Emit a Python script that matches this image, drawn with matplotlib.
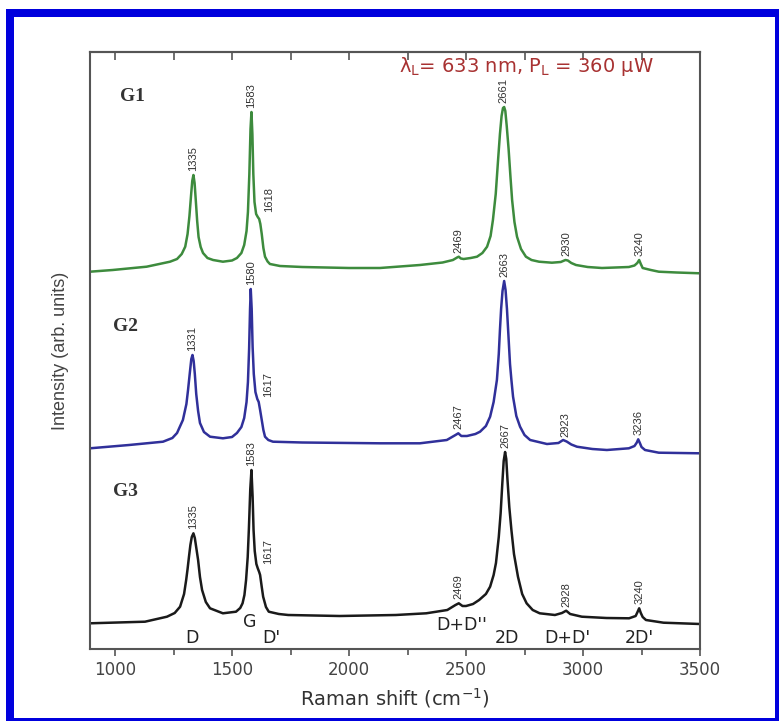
import numpy as np
import matplotlib.pyplot as plt
from matplotlib.patches import Rectangle
from matplotlib.ticker import MultipleLocator
from matplotlib.transforms import blended_transform_factory

# spectra (Raman shift in cm^-1, intensity in arb. units)
g1_x = [893, 990, 1135, 1235, 1265, 1285, 1300, 1310, 1318, 1325, 1330, 1335, 1340, 1345, 1351,
        1357, 1366, 1376, 1395, 1419, 1461, 1500, 1521, 1540, 1552, 1562, 1568, 1574, 1579, 1583,
        1587, 1591, 1596, 1603, 1610, 1616, 1621, 1627, 1634, 1641, 1652, 1662, 1705, 1800, 2000,
        2132, 2303, 2400, 2444, 2462, 2469, 2478, 2490, 2520, 2547, 2570, 2590, 2605, 2615, 2627,
        2637, 2645, 2652, 2658, 2663, 2668, 2674, 2682, 2690, 2697, 2707, 2718, 2735, 2756, 2780,
        2812, 2867, 2905, 2925, 2935, 2950, 2970, 3020, 3081, 3196, 3220, 3232, 3240, 3247, 3255,
        3290, 3324, 3400, 3500]
g1_y = [2.3, 4, 7.3, 12.3, 15, 20, 27.3, 40, 58, 79, 93, 99, 91, 74, 53,
        37, 27, 21, 16, 14, 12.3, 13.5, 16, 21, 29, 43, 62, 100, 145, 162,
        140, 100, 72, 60, 57, 55, 50, 40, 26, 17.3, 12.5, 10, 8, 7, 6,
        6, 9, 11.5, 14, 16.5, 17.3, 15.5, 15, 16, 17.3, 21, 27.3, 38, 54, 80,
        114, 140, 158, 166, 167, 163, 148, 125, 97, 74, 52, 37.3, 25, 17.3, 14,
        12.3, 11.3, 12, 14, 13.5, 11, 9, 7, 6, 7, 8.5, 11, 14, 10, 6,
        4, 2.3, 1.5, 0.7]

g2_x = [893, 1060, 1205, 1245, 1265, 1290, 1305, 1312, 1320, 1326, 1331, 1336, 1341, 1347, 1355,
        1363, 1380, 1406, 1461, 1500, 1521, 1540, 1552, 1562, 1568, 1573, 1577, 1580, 1584, 1588,
        1593, 1600, 1608, 1614, 1620, 1627, 1634, 1641, 1655, 1675, 1800, 2132, 2303, 2418, 2455,
        2467, 2480, 2504, 2540, 2560, 2585, 2603, 2618, 2632, 2640, 2645, 2650, 2656, 2663, 2669,
        2675, 2680, 2688, 2694, 2701, 2715, 2731, 2750, 2774, 2846, 2895, 2915, 2930, 2950, 2974,
        3040, 3102, 3196, 3220, 3230, 3236, 3243, 3250, 3265, 3324, 3500]
g2_y = [5.7, 9, 12.3, 16, 21, 34, 50, 64, 82, 95, 99, 93, 80, 60, 43,
        31, 22, 17.3, 15.7, 17, 21, 27, 36, 52, 72, 105, 145, 165, 145, 107,
        80, 62, 55, 52, 44, 34, 24, 17.3, 14, 12.3, 11.5, 10.7, 10.7, 14, 19,
        20.7, 18, 18, 20, 22.3, 28, 37.3, 52, 74, 100, 124, 145, 163, 173, 164,
        145, 124, 90, 74, 57.3, 38, 27.3, 19, 14, 10, 11, 14, 12.5, 9.5, 7.3,
        5, 4, 5.7, 8, 11.5, 14.7, 11, 7, 4, 1.3, 0.7]

g3_x = [893, 1128, 1222, 1255, 1278, 1295, 1304, 1310, 1316, 1322, 1328, 1335, 1341, 1348, 1355,
        1363, 1372, 1388, 1406, 1461, 1517, 1535, 1545, 1553, 1560, 1567, 1572, 1578, 1583, 1588,
        1592, 1597, 1604, 1610, 1616, 1620, 1627, 1633, 1645, 1657, 1700, 1740, 1960, 2200, 2330,
        2420, 2455, 2469, 2485, 2500, 2530, 2556, 2585, 2603, 2618, 2628, 2640, 2648, 2655, 2661,
        2667, 2672, 2677, 2685, 2694, 2705, 2722, 2740, 2759, 2785, 2815, 2880, 2910, 2928, 2945,
        2995, 3100, 3197, 3225, 3233, 3240, 3247, 3255, 3269, 3344, 3500]
g3_y = [5.7, 7.3, 12.3, 16, 22.3, 35, 49, 60, 72.3, 84, 92, 95.7, 91, 80, 69,
        52, 39, 27, 20.7, 15.7, 17.3, 21, 25.7, 34, 49, 72, 100, 140, 159, 132,
        99, 78, 65, 60.7, 57, 54, 42, 32.3, 22, 17.3, 15, 14, 13, 14, 15.7,
        19, 24, 25.7, 23, 23, 25, 29, 35, 42.3, 54, 66, 92, 116, 145, 168,
        177, 170, 150, 122, 99, 75, 52.3, 35, 25.7, 19, 15.7, 14, 16, 18.3, 15,
        12.3, 11, 10.7, 13, 17, 20.7, 16, 12, 9, 6.3, 5]

g1_peaks = [1335, 1583, 1618, 2469, 2661, 2930, 3240]
g2_peaks = [1331, 1580, 1617, 2467, 2663, 2923, 3236]
g3_peaks = [1335, 1583, 1617, 2469, 2667, 2928, 3240]

names = ['G1', 'G2', 'G3']
offsets = [375, 195, 20]
colors = ['#3d8b3d', '#30309a', '#1a1a1a']

bands = ['D', 'G', "D'", "D+D''", '2D', "D+D'", "2D'"]
band_pos = [1327, 1575, 1667, 2481, 2677, 2934, 3241]

fig = plt.figure(figsize=(7.79, 7.21), dpi=100)
ax = fig.add_axes([90 / 779, 72 / 721, 610 / 779, 597 / 721])

spectra = [(g1_x, g1_y, g1_peaks), (g2_x, g2_y, g2_peaks), (g3_x, g3_y, g3_peaks)]
name_pos = [(0.049, 0.925), (0.037, 0.541), (0.037, 0.264)]

for (x, y, peaks), off, col, name, npos in zip(spectra, offsets, colors, names, name_pos):
    y = np.array(y) + off
    ax.plot(x, y, color=col, lw=1.8, solid_joinstyle='round')
    for p in peaks:
        shoulder = 1600 < p < 1650
        dx, dy = (6.5, 6.5) if shoulder else (0, 3)
        ax.annotate(str(p), xy=(p, np.interp(p, x, y)), xytext=(dx, dy),
                    textcoords='offset points', rotation=90, ha='center', va='bottom',
                    fontsize=8, family='Liberation Sans', color='#333333')
    ax.text(npos[0], npos[1], name, transform=ax.transAxes, family='Liberation Serif',
            weight='bold', fontsize=14, ha='left', va='center', color='#333333')

# band assignments under the bottom spectrum
trans = blended_transform_factory(ax.transData, ax.transAxes)
for b, bx in zip(bands, band_pos):
    yy = 0.046 if b == 'G' else (0.040 if b == "D+D''" else 0.019)
    ax.text(bx, yy, b, transform=trans, ha='center', va='center', fontsize=12.5, color='#222222')

ax.text(0.716, 0.9665, 'λ$_\\mathrm{L}$= 633 nm, P$_\\mathrm{L}$ = 360 μW', transform=ax.transAxes,
        ha='center', va='baseline', fontsize=14, color='#a83232')

ax.set_xlim(893, 3500)
ax.set_ylim(0, 597)
ax.set_yticks([])
ax.xaxis.set_major_locator(MultipleLocator(500))
ax.xaxis.set_minor_locator(MultipleLocator(250))
ax.tick_params(axis='x', which='major', direction='out', length=5, width=1.2, color='#555555',
               labelsize=12, labelcolor='#444444', pad=3.5)
ax.tick_params(axis='x', which='minor', direction='out', length=4, width=1.2, color='#555555')

top = ax.secondary_xaxis('top')
top.xaxis.set_major_locator(MultipleLocator(500))
top.xaxis.set_minor_locator(MultipleLocator(250))
top.tick_params(axis='x', which='both', direction='in', length=6, width=1.2, color='#555555',
                labeltop=False)
top.spines['top'].set_color('#555555')
top.spines['top'].set_linewidth(1.5)

for s in ax.spines.values():
    s.set_color('#555555')
    s.set_linewidth(1.5)

ax.set_xlabel('Raman shift (cm$^{-1}$)', fontsize=14, color='#333333', labelpad=5)
ax.set_ylabel('Intensity (arb. units)', fontsize=13, family='Liberation Sans', color='#444444',
              labelpad=15)

# blue frame around the picture
W, H = 779, 721
blue = '#0000dd'
for (x0, y0, w, h) in [(6, 9, 8, 712), (6, 9, 773, 8), (775, 9, 4, 712), (6, 718, 773, 3)]:
    fig.add_artist(Rectangle((x0 / W, 1 - (y0 + h) / H), w / W, h / H,
                             transform=fig.transFigure, color=blue, lw=0))

fig.savefig('out.png', dpi=100)
